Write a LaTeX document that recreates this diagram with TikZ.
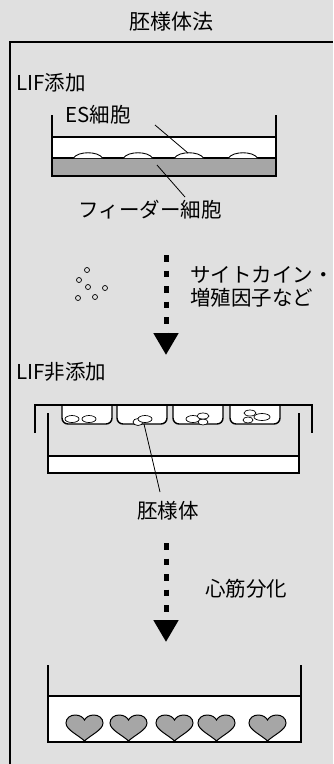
\documentclass[tikz,border=0pt]{standalone}
\usepackage{fontspec}
\setmainfont{Noto Sans CJK JP}
\usetikzlibrary{arrows.meta,positioning}
\tikzset{
  >=Stealth,
  wall/.style={draw,line width=1.4pt},
  surface/.style={draw,line width=1.1pt},
  leader/.style={draw,line width=0.8pt},
  lbl/.style={font=\fontsize{20.5}{23}\selectfont,inner sep=0pt},
  blob/.style={draw,fill=white,line width=0.7pt},
  tissue/.style={draw,fill=black!35,line width=1pt},
  flow/.style={line width=5pt,dash pattern=on 6.5pt off 9pt,
               -{Triangle[width=24pt,length=22pt]}},
  heart/.pic={
    \path[tissue] (0,0) .. controls (-6,-6) and (-18.5,-11) .. (-18.5,-18)
      .. controls (-18.5,-23) and (-14,-26) .. (-9.5,-26)
      .. controls (-5,-26) and (-1.5,-24) .. (0,-21)
      .. controls (1.5,-24) and (5,-26) .. (9.5,-26)
      .. controls (14,-26) and (18.5,-23) .. (18.5,-18)
      .. controls (18.5,-11) and (6,-6) .. cycle;
  },
}

\begin{document}
\begin{tikzpicture}[x=1pt,y=-1pt]

    \useasboundingbox (0,0) rectangle (333,764);
    \fill[black!12] (0,0) rectangle (333,764);

    \node[lbl,font=\fontsize{21}{24}\selectfont] (title) at (171,22) {胚様体法};
    \draw[wall] (10,764) -- (10,42) -- (333,42);

    % feeder culture with LIF
    \node[lbl,anchor=west] (lifon) at (16,83) {LIF添加};
    \fill[white] (52,137) rectangle (276,158);
    \fill[black!35] (52,158) rectangle (276,176);
    \draw[surface] (52,137) -- (276,137);
    \draw[surface] (52,158) -- (276,158);
    \foreach \x in {88,138,189,243}
      \draw[blob,line width=0.9pt] ({\x-14.5},158) .. controls ({\x-10},151) and ({\x+10},151) .. ({\x+14.5},158);
    \draw[wall] (52,115) -- (52,176) -- (276,176) -- (276,115);

    \node[lbl] (es) at (98,115) {ES細胞};
    \coordinate (esA) at (155,125);
    \coordinate (esB) at (188,153);
    \draw[leader] (esA) -- (esB);

    \node[lbl] (feeder) at (150,210) {フィーダー細胞};
    \coordinate (fdA) at (157,165);
    \coordinate (fdB) at (185,197);
    \draw[leader] (fdA) -- (fdB);

    % cytokines
    \foreach \p in {(87,270),(79,280),(88,287),(105,288),(78,298),(95,297)}
      \draw[line width=0.7pt] \p circle (2.5);
    \coordinate (f1s) at (166,255);
    \coordinate (f1e) at (166,355);
    \draw[flow] (f1s) -- (f1e);
    \node[lbl,anchor=west,align=left] (cyto) at (190,287) {サイトカイン・\\増殖因子など};

    % hanging drop without LIF
    \node[lbl,anchor=west] (lifoff) at (16,372) {LIF非添加};
    \fill[white] (48,456) rectangle (299,473);
    \draw[surface] (48,456) -- (299,456);
    \draw[wall] (48,413) -- (48,473) -- (299,473) -- (299,413);
    \foreach \x in {62,117,173,230}
      \draw[wall,fill=white,rounded corners=6pt] (\x,405) -- (\x,424) -- ({\x+50},424) -- ({\x+50},405);
    \draw[wall] (35,433) -- (35,405) -- (312,405) -- (312,433);

    \draw[blob] (72,419) ellipse [x radius=7,y radius=3.5];
    \draw[blob] (89,419) ellipse [x radius=7,y radius=3.5];
    \draw[blob] (138,422) ellipse [x radius=5,y radius=3.5];
    \draw[blob] (145,419) ellipse [x radius=7,y radius=3.5];
    \draw[blob] (193,419) ellipse [x radius=7,y radius=3.5];
    \draw[blob] (203,422) ellipse [x radius=5,y radius=3];
    \draw[blob] (203,416) ellipse [x radius=6,y radius=3];
    \draw[blob] (248,420) ellipse [x radius=5,y radius=3];
    \draw[blob] (250,413) ellipse [x radius=6,y radius=3];
    \draw[blob] (262,417) ellipse [x radius=8,y radius=3.5];

    \node[lbl] (eb) at (168,511) {胚様体};
    \coordinate (ebA) at (144,424);
    \coordinate (ebB) at (160,492);
    \draw[leader] (ebA) -- (ebB);

    % cardiac differentiation
    \coordinate (f2s) at (166,543);
    \coordinate (f2e) at (166,642);
    \draw[flow] (f2s) -- (f2e);
    \node[lbl] (cardio) at (246,589) {心筋分化};

    \fill[white] (48,696) rectangle (301,742);
    \draw[surface] (48,696) -- (301,696);
    \foreach \x in {84.5,128.5,174.5,216.5,267.5}
      \pic at (\x,741) {heart};
    \draw[wall] (48,665) -- (48,742) -- (301,742) -- (301,665);

  \end{tikzpicture}
\end{document}
